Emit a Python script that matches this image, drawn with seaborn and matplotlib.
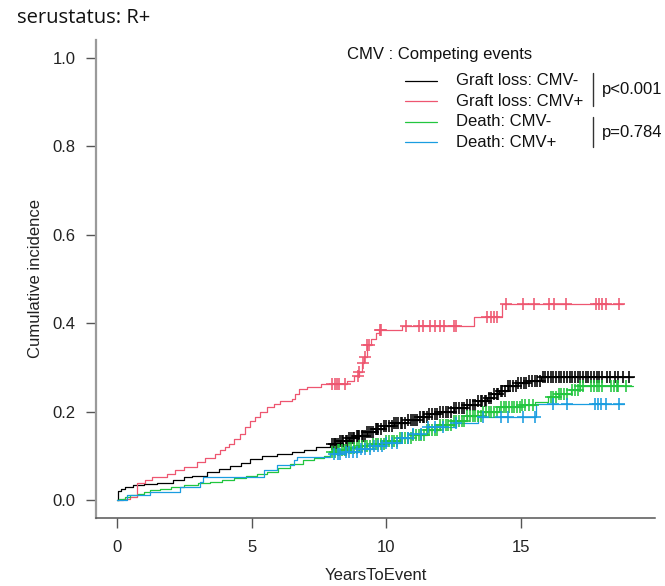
import numpy as np
import pandas as pd
import seaborn as sns
import matplotlib.pyplot as plt
from matplotlib.lines import Line2D

# ---- cumulative incidence step functions (years, cumulative incidence) ----
graft_neg_t = [0.0, 0.05, 0.15, 0.3, 0.6, 1.0, 1.5, 2.1, 2.5, 2.8, 3.35, 3.8, 4.2, 4.6,
               4.95, 5.4, 5.95, 6.5, 6.94, 7.4, 7.93, 8.3, 8.6, 8.9, 9.3, 9.6, 9.9, 10.3,
               10.8, 11.2, 11.6, 12.0, 12.5, 13.0, 13.4, 13.75, 14.0, 14.2, 14.5, 14.9,
               15.3, 15.74]
graft_neg_ci = [0.0, 0.02, 0.025, 0.03, 0.034, 0.037, 0.04, 0.045, 0.052, 0.056, 0.064,
                0.07, 0.078, 0.085, 0.093, 0.1, 0.105, 0.11, 0.114, 0.12, 0.128, 0.135,
                0.14, 0.146, 0.155, 0.162, 0.168, 0.175, 0.182, 0.188, 0.194, 0.2, 0.208,
                0.216, 0.224, 0.232, 0.24, 0.248, 0.258, 0.264, 0.27, 0.278]
graft_neg_end = 19.15

graft_pos_t = [0.0, 0.25, 0.5, 0.74, 1.05, 1.3, 1.86, 2.17, 2.5, 2.97, 3.28, 3.65, 3.84,
               4.0, 4.15, 4.34, 4.58, 4.77, 4.96, 5.14, 5.33, 5.58, 5.82, 6.07, 6.5, 6.63,
               6.75, 7.06, 7.56, 8.55, 8.8, 8.98, 9.1, 9.17, 9.29, 9.45, 9.6, 9.73, 10.6,
               13.26, 14.31]
graft_pos_ci = [0.0, 0.004, 0.008, 0.038, 0.045, 0.053, 0.06, 0.068, 0.075, 0.086, 0.096,
                0.105, 0.113, 0.12, 0.128, 0.139, 0.15, 0.165, 0.18, 0.188, 0.199, 0.21,
                0.218, 0.225, 0.229, 0.24, 0.252, 0.255, 0.263, 0.27, 0.28, 0.289, 0.31,
                0.323, 0.35, 0.365, 0.379, 0.385, 0.394, 0.415, 0.443]
graft_pos_end = 18.8

death_neg_t = [0.0, 0.1, 0.3, 0.5, 0.8, 1.0, 1.24, 1.6, 2.0, 2.48, 3.0, 3.47, 3.9, 4.34,
               4.8, 5.2, 5.58, 6.0, 6.44, 6.9, 7.3, 7.68, 7.93, 8.2, 8.6, 9.0, 9.5, 10.0,
               10.5, 11.0, 11.5, 12.0, 12.5, 13.0, 13.6, 14.2, 15.0, 15.5, 16.0, 16.4,
               16.85, 17.2]
death_neg_ci = [0.0, 0.004, 0.008, 0.011, 0.015, 0.019, 0.0225, 0.026, 0.03, 0.034, 0.038,
                0.041, 0.045, 0.05, 0.055, 0.06, 0.064, 0.072, 0.083, 0.09, 0.096, 0.101,
                0.108, 0.113, 0.118, 0.123, 0.128, 0.134, 0.14, 0.148, 0.158, 0.17, 0.18,
                0.19, 0.2, 0.21, 0.215, 0.222, 0.233, 0.24, 0.25, 0.259]
death_neg_end = 19.15

death_pos_t = [0.0, 0.37, 1.24, 2.35, 3.1, 3.2, 5.45, 5.95, 6.56, 6.69, 7.93, 8.5, 9.0,
               9.5, 10.0, 10.5, 11.0, 11.5, 12.6, 13.4, 15.55]
death_pos_ci = [0.0, 0.011, 0.019, 0.03, 0.041, 0.0525, 0.068, 0.079, 0.09, 0.098, 0.105,
                0.11, 0.116, 0.123, 0.13, 0.14, 0.15, 0.165, 0.175, 0.188, 0.218]
death_pos_end = 18.83

# ---- censoring times ----
graft_neg_cens = [8.0, 8.05, 8.1, 8.15, 8.2, 8.3, 8.35, 8.4, 8.5, 8.55, 8.6, 8.7, 8.75, 8.8,
                  8.9, 8.95, 9.0, 9.1, 9.15, 9.2, 9.3, 9.35, 9.45, 9.5, 9.6, 9.65, 9.7, 9.8,
                  9.9, 10.0, 10.1, 10.2, 10.3, 10.35, 10.45, 10.55, 10.6, 10.7, 10.8, 10.9,
                  11.0, 11.05, 11.15, 11.25, 11.35, 11.4, 11.5, 11.6, 11.7, 11.8, 11.9,
                  12.0, 12.1, 12.2, 12.3, 12.4, 12.5, 12.6, 12.7, 12.8, 12.9, 13.0, 13.1,
                  13.2, 13.3, 13.4, 13.5, 13.55, 13.65, 13.7, 13.8, 13.9, 14.0, 14.1, 14.15,
                  14.25, 14.3, 14.4, 14.5, 14.6, 14.7, 14.8, 14.9, 15.0, 15.1, 15.2, 15.3,
                  15.4, 15.5, 15.6, 15.7, 15.8, 15.9, 16.0, 16.1, 16.2, 16.3, 16.4, 16.5,
                  16.6, 16.7, 16.8, 16.9, 17.0, 17.1, 17.2, 17.3, 17.4, 17.5, 17.6, 17.7,
                  17.8, 17.9, 18.0, 18.2, 18.3, 18.5, 18.6, 18.8, 19.0]
graft_pos_cens = [8.0, 8.08, 8.16, 8.24, 8.45, 8.95, 9.0, 9.15, 9.2, 9.3, 9.35, 9.75, 9.8,
                  10.72, 11.2, 11.36, 11.64, 11.8, 12.0, 12.15, 12.5, 12.6, 13.75, 13.87,
                  14.0, 14.12, 14.43, 15.06, 15.49, 16.04, 16.23, 16.67, 17.77, 17.9, 18.02,
                  18.15, 18.65]
death_neg_cens = [8.0, 8.1, 8.2, 8.25, 8.35, 8.45, 8.5, 8.6, 8.7, 8.8, 8.9, 9.0, 9.1, 9.2,
                  9.3, 9.4, 9.5, 9.6, 9.7, 9.8, 9.9, 10.0, 10.1, 10.2, 10.3, 10.4, 10.5,
                  10.6, 10.7, 10.8, 10.9, 11.0, 11.1, 11.2, 11.3, 11.4, 11.5, 11.6, 11.7,
                  11.8, 11.9, 12.0, 12.1, 12.2, 12.3, 12.4, 12.5, 12.6, 12.7, 12.8, 12.9,
                  13.0, 13.1, 13.2, 13.3, 13.4, 13.5, 13.6, 13.7, 13.8, 13.9, 14.0, 14.1,
                  14.25, 14.35, 14.45, 14.55, 14.65, 14.75, 14.85, 14.95, 15.05, 15.15,
                  15.3, 15.45, 16.1, 16.2, 16.3, 16.4, 16.5, 16.6, 16.7, 16.9, 17.0, 17.1,
                  17.2, 17.3, 17.6, 17.7, 17.8, 17.9, 18.0, 18.35, 18.45, 18.55, 18.6, 18.9]
death_pos_cens = [8.05, 8.2, 8.3, 8.5, 8.6, 8.75, 8.9, 9.05, 9.2, 9.4, 9.55, 9.7, 9.85,
                  10.0, 10.2, 10.4, 10.6, 10.8, 11.0, 11.3, 11.55, 11.8, 12.1, 12.6, 13.6,
                  14.25, 14.5, 15.06, 15.5, 16.2, 16.7, 17.75, 17.85, 17.95, 18.15, 18.65]

series = [
    ("Graft loss: CMV-", graft_neg_t, graft_neg_ci, graft_neg_end, graft_neg_cens, "#000000"),
    ("Graft loss: CMV+", graft_pos_t, graft_pos_ci, graft_pos_end, graft_pos_cens, "#EE5670"),
    ("Death: CMV-", death_neg_t, death_neg_ci, death_neg_end, death_neg_cens, "#22C63F"),
    ("Death: CMV+", death_pos_t, death_pos_ci, death_pos_end, death_pos_cens, "#1A9DE0"),
]

sns.set_theme(style="ticks")
plt.rcParams["font.family"] = ["Liberation Sans", "DejaVu Sans"]

fig = plt.figure(figsize=(6.65, 5.86), dpi=100)
W, H = 665, 586
ax = fig.add_axes([96 / W, 1 - 518 / H, (655 - 96) / W, (518 - 40) / H])

for name, t, ci, t_end, cens, col in series:
    t = np.asarray(t)
    ci = np.asarray(ci)
    steps = pd.DataFrame({"t": np.append(t, t_end), "ci": np.append(ci, ci[-1])})
    sns.lineplot(data=steps, x="t", y="ci", drawstyle="steps-post", estimator=None,
                 sort=False, color=col, linewidth=0.9, ax=ax)
    cens = np.asarray(cens)
    idx = np.searchsorted(t, cens, side="right") - 1
    marks = pd.DataFrame({"t": cens, "ci": ci[idx]})
    sns.scatterplot(data=marks, x="t", y="ci", marker="+", s=85, color=col,
                    linewidth=1.15, ax=ax, zorder=3)

ax.set_xlim(-0.77, 19.97)
ax.set_ylim(-0.04, 1.04)
ax.set_xticks([0, 5, 10, 15])
ax.set_yticks([0.0, 0.2, 0.4, 0.6, 0.8, 1.0])
ax.set_yticklabels(["0.0", "0.2", "0.4", "0.6", "0.8", "1.0"])
ax.tick_params(axis="both", direction="out", length=7.5, width=1.0, color="#555555",
               labelsize=12, labelcolor="#222222")
ax.tick_params(axis="y", pad=7)
ax.tick_params(axis="x", pad=8)
for side in ("top", "right"):
    ax.spines[side].set_visible(False)
ax.spines["left"].set_color("#9a9a9a")
ax.spines["left"].set_linewidth(1.6)
ax.spines["bottom"].set_color("#555555")
ax.spines["bottom"].set_linewidth(1.1)

ax.set_xlabel("YearsToEvent", fontsize=12, color="#222222")
ax.set_ylabel("Cumulative incidence", fontsize=12, color="#222222")
ax.xaxis.label.set_va("center")
ax.yaxis.label.set_va("center")
ax.xaxis.set_label_coords(0.5, -(576 - 518) / 478)
ax.yaxis.set_label_coords(-(96 - 36) / 559, 0.5)

# title
fig.text(17 / W, 1 - 18 / H, "serustatus: R+", fontsize=14.5, color="#111111",
         family=["Open Sans", "DejaVu Sans"], va="center", ha="left")

# legend, drawn in figure pixel positions
fig.text(347 / W, 1 - 54 / H, "CMV : Competing events", fontsize=12, color="#111111",
         va="center", ha="left")
rows = [81, 101, 121.5, 142]
for (name, *_rest, col), y in zip(series, rows):
    fig.add_artist(Line2D([405 / W, 437 / W], [1 - y / H, 1 - y / H], color=col,
                          linewidth=0.9, transform=fig.transFigure))
    fig.text(456 / W, 1 - y / H, name, fontsize=12, color="#111111", va="center", ha="left")

for (y0, y1, label) in [(72.5, 106, "p<0.001"), (117, 147, "p=0.784")]:
    fig.add_artist(Line2D([592.5 / W, 592.5 / W], [1 - y0 / H, 1 - y1 / H], color="#333333",
                          linewidth=1.0, transform=fig.transFigure))
    fig.text(602 / W, 1 - (y0 + y1) / 2 / H, label, fontsize=12, color="#111111",
             va="center", ha="left")

fig.savefig("out.png", dpi=100)
